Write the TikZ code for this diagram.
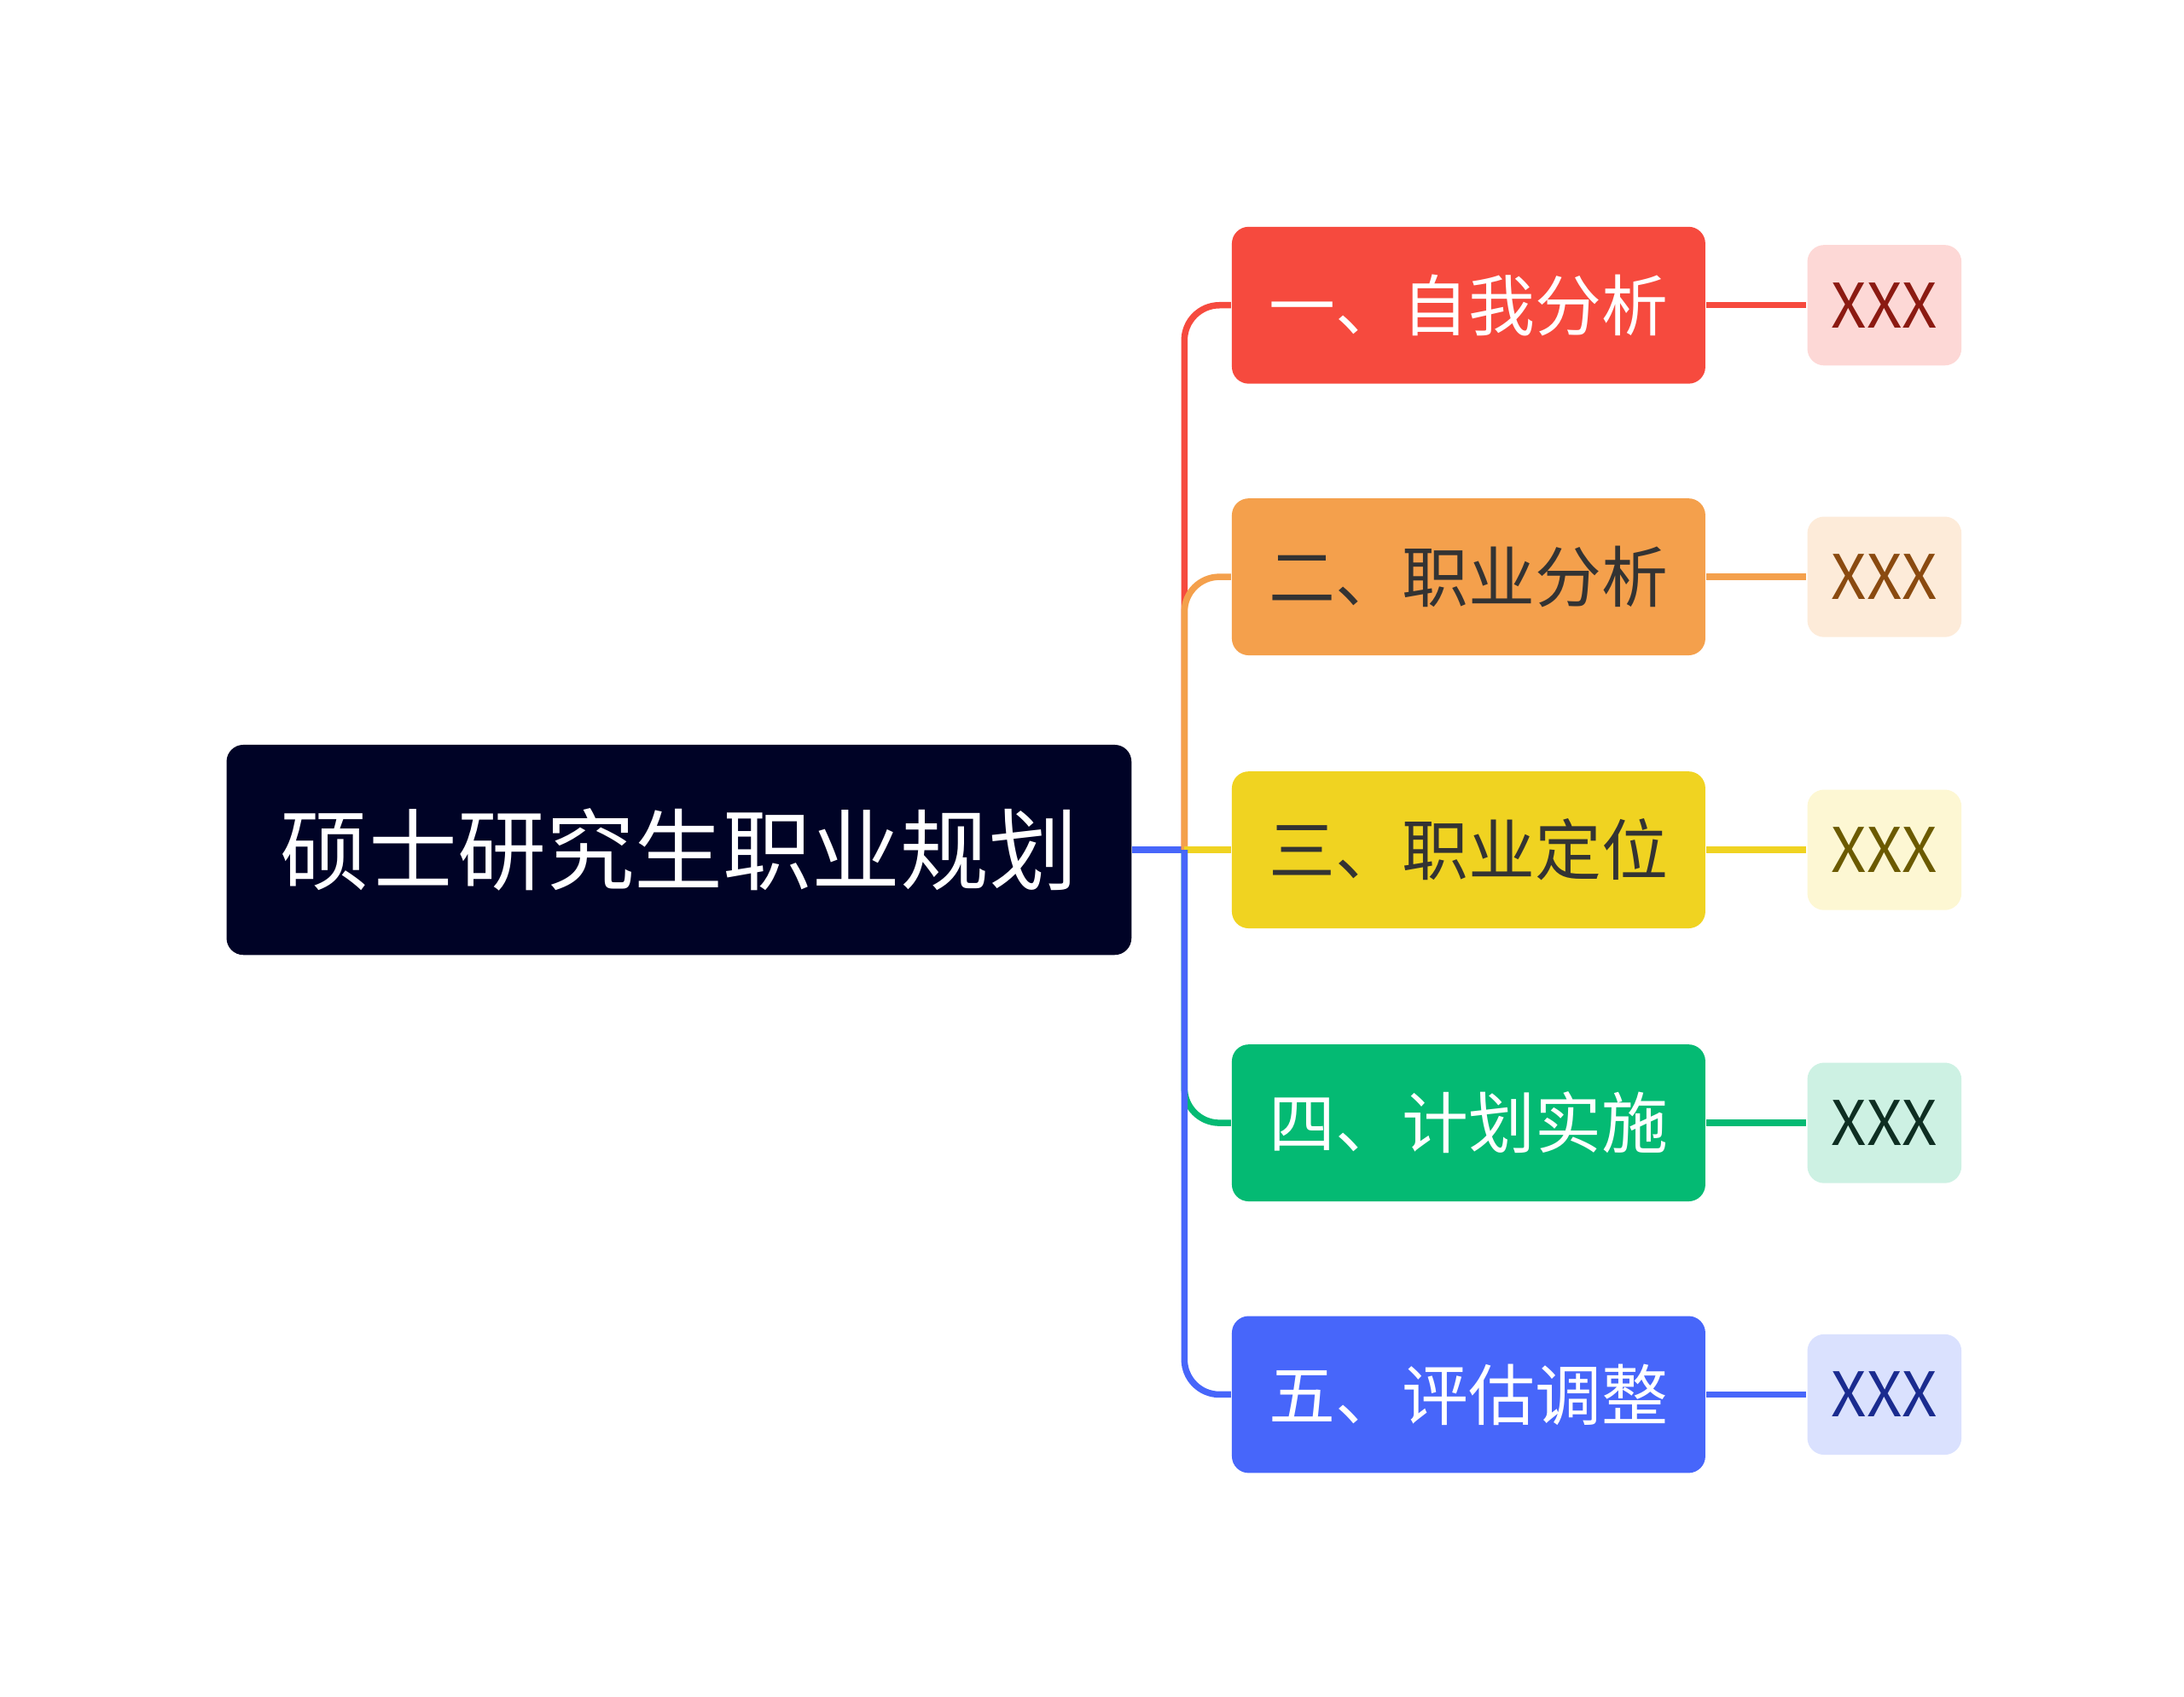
\documentclass[tikz,border=0pt]{standalone}
\usepackage{fontspec}
\setmainfont{Noto Sans CJK SC}
\definecolor{rootC}{HTML}{000326}
\definecolor{cR}{HTML}{F64A3E}\definecolor{lR}{HTML}{FDD8D6}\definecolor{tR}{HTML}{8B1A12}
\definecolor{cO}{HTML}{F4A04C}\definecolor{lO}{HTML}{FDEBD9}\definecolor{tO}{HTML}{8A4A10}
\definecolor{cY}{HTML}{F0D321}\definecolor{lY}{HTML}{FDF7D3}\definecolor{tY}{HTML}{6B5A00}
\definecolor{cG}{HTML}{04BA73}\definecolor{lG}{HTML}{CDF1E3}\definecolor{tG}{HTML}{0E2E22}
\definecolor{cB}{HTML}{4766FA}\definecolor{lB}{HTML}{DAE1FE}\definecolor{tB}{HTML}{1A2B8F}
\definecolor{dark}{HTML}{333333}
\begin{document}
\begin{tikzpicture}[x=0.01cm,y=-0.01cm,root/.style={shape=rectangle,rounded corners=0.12cm,fill=rootC,text=white,minimum width=6.46cm,minimum height=1.5cm,font=\fontsize{18}{20}\selectfont},topic/.style={shape=rectangle,rounded corners=0.12cm,minimum width=3.38cm,minimum height=1.12cm,font=\fontsize{13.5}{15}\selectfont},leaf/.style={shape=rectangle,rounded corners=0.12cm,minimum width=1.1cm,minimum height=0.86cm,font=\fontsize{12.5}{14}\selectfont},link/.style={line width=1.3pt,rounded corners=0.25cm}]
\useasboundingbox (0,0) rectangle (1560,1212);
\def\xt{1049};
\def\xl{1346};

\node[root] (R) at (485,607) {硕士研究生职业规划};
\coordinate (J) at (846,607);

\node[topic,fill=cR,text=white] (T1) at (\xt,218) {一、自我分析};
\node[topic,fill=cO,text=dark] (T2) at (\xt,412) {二、职业分析};
\node[topic,fill=cY,text=dark] (T3) at (\xt,607) {三、职业定位};
\node[topic,fill=cG,text=white] (T4) at (\xt,802) {四、计划实施};
\node[topic,fill=cB,text=white] (T5) at (\xt,996) {五、评估调整};

\node[leaf,fill=lR,text=tR] (L1) at (\xl,218) {XXX};
\node[leaf,fill=lO,text=tO] (L2) at (\xl,412) {XXX};
\node[leaf,fill=lY,text=tY] (L3) at (\xl,607) {XXX};
\node[leaf,fill=lG,text=tG] (L4) at (\xl,802) {XXX};
\node[leaf,fill=lB,text=tB] (L5) at (\xl,996) {XXX};

\draw[link,cB] (R.east) -- (J);
\draw[link,cR] (J) |- (T1.west);
\draw[link,cO] (J) |- (T2.west);
\draw[link,cY] (J) -- (T3.west);
\draw[link,cG] (J) |- (T4.west);
\draw[link,cB] (J) |- (T5.west);

\draw[link,cR] (T1.east) -- (L1.west);
\draw[link,cO] (T2.east) -- (L2.west);
\draw[link,cY] (T3.east) -- (L3.west);
\draw[link,cG] (T4.east) -- (L4.west);
\draw[link,cB] (T5.east) -- (L5.west);
\end{tikzpicture}
\end{document}
